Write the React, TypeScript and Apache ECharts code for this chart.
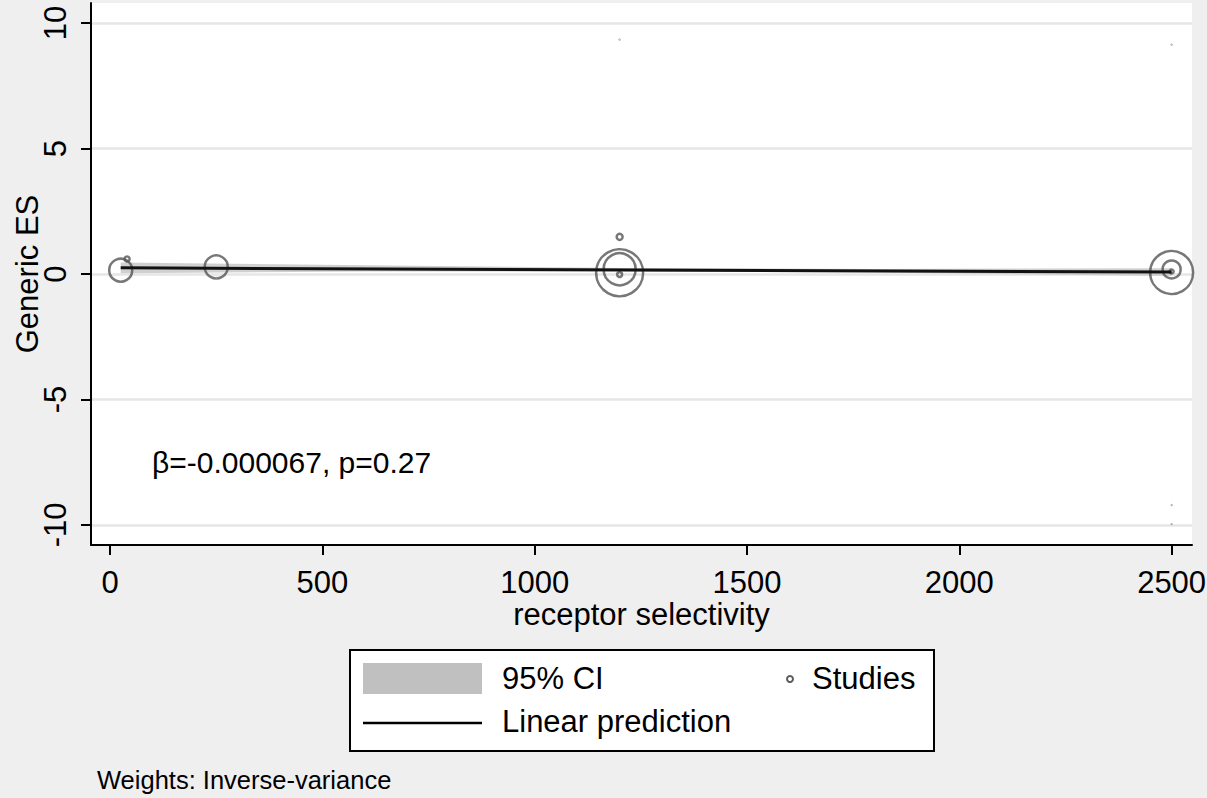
import React, { useEffect, useRef } from "react";
import * as echarts from "echarts";

const xTicks = [0, 500, 1000, 1500, 2000, 2500];
const yTicks = [-10, -5, 0, 5, 10];

// studies: receptor selectivity, effect size, marker diameter (weight)
const studyX = [25, 40, 250, 250, 1200, 1200, 1200, 1200, 1200, 2500, 2500, 2500, 2500, 2500, 2500];
const studyES = [0.15, 0.6, 0.28, -0.15, 0.05, 0.19, 1.48, -0.02, 9.34, 0.06, 0.18, 0.1, 9.14, -9.21, -9.97];
const studySize = [23, 5, 23, 1.5, 47, 32, 6, 5, 1.5, 43, 18, 4, 1.5, 1.5, 1.5];

// 95% CI band
const ciX = [25, 600, 1200, 1800, 2500];
const ciLow = [0.03, 0.1, 0.1, 0.06, -0.08];
const ciHigh = [0.46, 0.35, 0.24, 0.2, 0.23];

// linear prediction
const predX = [25, 2500];
const predY = [0.245, 0.079];

const betaText = "β=-0.000067, p=0.27";

export default function App() {
  const ref = useRef<HTMLDivElement>(null);
  useEffect(() => {
    document.body.style.margin = "0";
    const chart = echarts.init(ref.current!, null, { renderer: "svg" });
    const font = "'Liberation Sans', Arial, sans-serif";
    const axisLineStyle = { color: "#000", width: 2 };
    chart.setOption({
      animation: false,
      backgroundColor: "#efefef",
      grid: {
        left: 91,
        right: 15,
        top: 3,
        bottom: 253,
        show: true,
        backgroundColor: "#ffffff",
        borderWidth: 0,
        containLabel: false,
        outerBoundsMode: "none",
      },
      xAxis: {
        type: "value",
        min: -45,
        max: 2548,
        name: "receptor selectivity",
        nameLocation: "middle",
        nameGap: 54,
        nameMoveOverlap: false,
        nameTextStyle: { fontFamily: font, fontSize: 31, color: "#000" },
        axisLine: { show: true, onZero: false, lineStyle: axisLineStyle },
        axisTick: { show: true, length: 10, customValues: xTicks, lineStyle: axisLineStyle },
        axisLabel: {
          customValues: xTicks,
          formatter: (v: number) => String(v),
          fontFamily: font,
          fontSize: 31,
          color: "#000",
          margin: 22,
        },
        splitLine: { show: false },
      },
      yAxis: {
        type: "value",
        min: -10.8,
        max: 10.8,
        name: "Generic ES",
        nameLocation: "middle",
        nameGap: 48,
        nameMoveOverlap: false,
        nameRotate: 90,
        nameTextStyle: { fontFamily: font, fontSize: 31, color: "#000" },
        axisLine: { show: true, onZero: false, lineStyle: axisLineStyle },
        axisTick: { show: true, length: 10, customValues: yTicks, lineStyle: axisLineStyle },
        axisLabel: {
          customValues: yTicks,
          formatter: (v: number) => String(v),
          rotate: 90,
          fontFamily: font,
          fontSize: 31,
          color: "#000",
          margin: 20,
        },
        splitLine: { show: true, lineStyle: { color: "#e6e6e6", width: 2.5 } },
      },
      series: [
        {
          type: "custom",
          data: [0],
          silent: true,
          z: 1,
          renderItem: (_params: any, api: any) => {
            const upper = ciX.map((x, i) => api.coord([x, ciHigh[i]]));
            const lower = ciX.map((x, i) => api.coord([x, ciLow[i]])).reverse();
            return {
              type: "polygon",
              shape: { points: upper.concat(lower) },
              style: { fill: "#c8c8c8", opacity: 0.85 },
            };
          },
        },
        {
          type: "line",
          data: predX.map((x, i) => [x, predY[i]]),
          symbol: "none",
          lineStyle: { color: "#111", width: 3 },
          z: 3,
        },
        {
          type: "scatter",
          data: studyX.map((x, i) => ({
            value: [x, studyES[i]],
            symbolSize: studySize[i],
            itemStyle: studySize[i] < 2 ? { borderWidth: 1, borderColor: "#9a9a9a" } : undefined,
          })),
          symbol: "circle",
          itemStyle: { color: "rgba(0,0,0,0)", borderColor: "#555555", borderWidth: 2.5 },
          z: 2,
        },
      ],
      graphic: [
        {
          type: "text",
          left: 152,
          top: 447,
          style: { text: betaText, fontFamily: font, fontSize: 30, fill: "#000" },
        },
        {
          type: "rect",
          shape: { x: 350, y: 650, width: 584, height: 101 },
          style: { fill: "#fff", stroke: "#000", lineWidth: 2 },
        },
        {
          type: "rect",
          shape: { x: 363, y: 663, width: 119, height: 31 },
          style: { fill: "#c0c0c0" },
        },
        {
          type: "text",
          left: 502,
          top: 663,
          style: { text: "95% CI", fontFamily: font, fontSize: 31, fill: "#000" },
        },
        {
          type: "circle",
          shape: { cx: 790, cy: 679, r: 3 },
          style: { fill: "#fff", stroke: "#5c5c5c", lineWidth: 2 },
        },
        {
          type: "text",
          left: 812,
          top: 663,
          style: { text: "Studies", fontFamily: font, fontSize: 31, fill: "#000" },
        },
        {
          type: "line",
          shape: { x1: 363, y1: 723, x2: 482, y2: 723 },
          style: { stroke: "#000", lineWidth: 2.5 },
        },
        {
          type: "text",
          left: 502,
          top: 706,
          style: { text: "Linear prediction", fontFamily: font, fontSize: 31, fill: "#000" },
        },
        {
          type: "text",
          left: 97,
          top: 767,
          style: { text: "Weights: Inverse-variance", fontFamily: font, fontSize: 25.5, fill: "#000" },
        },
      ],
    });
    return () => chart.dispose();
  }, []);
  return <div ref={ref} style={{ width: 1207, height: 798 }} />;
}
